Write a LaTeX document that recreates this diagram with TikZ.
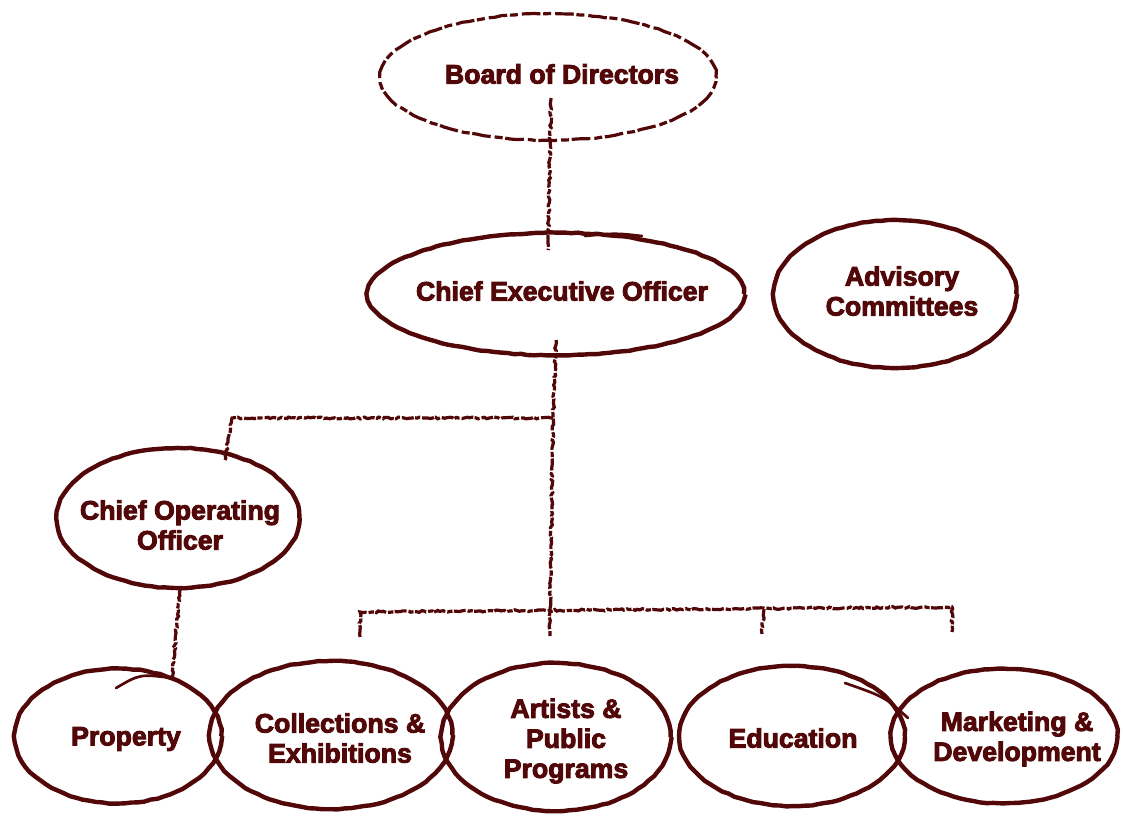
\documentclass[tikz,border=0pt]{standalone}
\usepackage{fontspec}
\setmainfont{Liberation Sans}
\usetikzlibrary{shapes.geometric,decorations.pathmorphing}
\definecolor{ink}{RGB}{82,8,8}
\newcommand\heavyon{\special{pdf:literal direct 2 Tr 0.7 w 0.3216 0.0314 0.0314 RG}}
\newcommand\heavyoff{\special{pdf:literal direct 0 Tr}}
\tikzset{
  oval/.style={ellipse, draw=ink, line width=3.3pt, inner sep=0pt,
    decorate, decoration={random steps, segment length=5pt, amplitude=0.35pt}},
  roughoval/.style={oval, line width=2.4pt, dash pattern=on 14pt off 3pt on 6pt off 2pt},
  lbl/.style={text=ink, font=\bfseries\fontsize{20}{22.5}\selectfont, align=center, inner sep=0pt,
    execute at begin node=\heavyon, execute at end node=\heavyoff},
  conn/.style={draw=ink, line width=2.4pt, decorate,
    decoration={random steps, segment length=2pt, amplitude=0.7pt},
    dash pattern=on 9pt off 1.5pt on 4pt off 1pt},
  tail/.style={draw=ink, line width=2pt, line cap=round}
}
\begin{document}
\begin{tikzpicture}[x=0.75pt,y=-0.75pt]
\useasboundingbox (0,0) rectangle (1123,815);
% ovals
\node[roughoval, minimum width=252pt, minimum height=95pt] (bod) at (548,77) {};
\node[oval, minimum width=282pt, minimum height=92pt] (ceo) at (556,294) {};
\node[oval, minimum width=182pt, minimum height=111pt] (adv) at (895,294) {};
\node[oval, minimum width=182pt, minimum height=105pt] (coo) at (178,518) {};
\node[oval, minimum width=155pt, minimum height=101pt] (prop) at (118,736) {};
\node[oval, minimum width=182pt, minimum height=111pt] (coll) at (331,735) {};
\node[oval, minimum width=172pt, minimum height=111pt] (art) at (556,737) {};
\node[oval, minimum width=169pt, minimum height=105pt] (edu) at (792,736) {};
\node[oval, minimum width=170pt, minimum height=101pt] (mkt) at (1004,736) {};
% sketch tails
\draw[tail] (585,236) .. controls (615,233) .. (642,236);
\draw[tail] (116,688) .. controls (140,674) .. (172,678);
\draw[tail] (845,683) .. controls (885,697) .. (908,718);
% labels
\node[lbl] (tbod) at (562,74) {Board of Directors};
\node[lbl] (tceo) at (562,291) {Chief Executive Officer};
\node[lbl] (tadv) at (902,291) {Advisory\\Committees};
\node[lbl] (tcoo) at (180,525) {Chief Operating\\Officer};
\node[lbl] (tprop) at (126,739) {Property};
\node[lbl] (tcoll) at (340,738) {Collections \&\\Exhibitions};
\node[lbl] (tart) at (566,741) {Artists \&\\Public\\Programs};
\node[lbl] (tedu) at (793,738) {Education};
\node[lbl] (tmkt) at (1017,739) {Marketing \&\\Development};
% connector points
\coordinate (bodT) at (551,98);
\coordinate (ceoT) at (548,250);
\coordinate (ceoB) at (556,340);
\coordinate (j1) at (553,418);
\coordinate (c1) at (232,418);
\coordinate (cooT) at (225,460);
\coordinate (j2) at (550,612);
\coordinate (artT) at (550,636);
\coordinate (lT) at (360,637);
\coordinate (lC) at (360,612);
\coordinate (rC) at (952,607);
\coordinate (rT) at (952,632);
\coordinate (m1) at (764,609);
\coordinate (m2) at (762,634);
\coordinate (cooB) at (180,590);
\coordinate (propT) at (172,677);
% connectors
\draw[conn] (bodT) -- (ceoT);
\draw[conn] (ceoB) -- (j1) -- (j2) -- (artT);
\draw[conn] (j1) -- (c1) -- (cooT);
\draw[conn] (lT) -- (lC) -- (rC) -- (rT);
\draw[conn] (m1) -- (m2);
\draw[conn] (cooB) -- (propT);
\end{tikzpicture}
\end{document}
